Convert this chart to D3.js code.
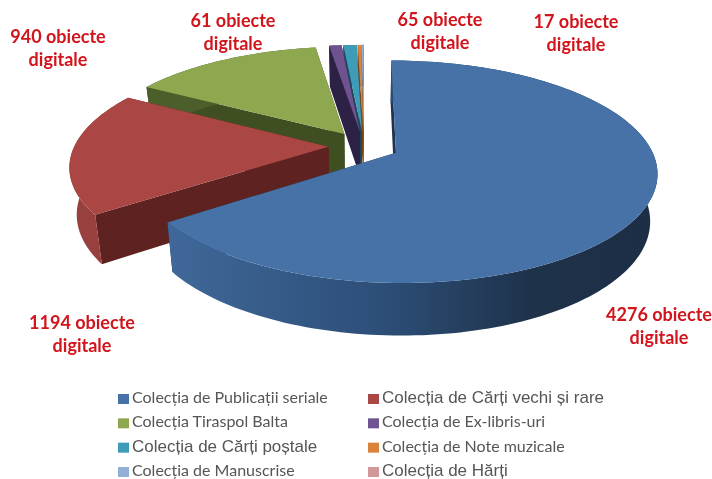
<!DOCTYPE html>
<html>
<head>
<meta charset="utf-8">
<script src="https://cdn.jsdelivr.net/npm/d3@7"></script>
<style>
html, body { margin: 0; padding: 0; background: #fff; }
svg { display: block; filter: blur(0.4px); }
</style>
</head>
<body>
<svg id="svg" width="712" height="479"></svg>
<script>
const categories = [
	'Colecția de Publicații seriale',
	'Colecția de Cărți vechi și rare',
	'Colecția Tiraspol Balta',
	'Colecția de Ex-libris-uri',
	'Colecția de Cărți poștale',
	'Colecția de Note muzicale',
	'Colecția de Manuscrise',
	'Colecția de Hărți',
]
const values = [4276, 1194, 940, 61, 65, 17, 8, 3]
const dataLabels = ['4276', '1194', '940', '61', '65', '17']

const topColors = ['#4672a8', '#aa4643', '#8ea84f', '#6f5290', '#3e9cb8', '#d8823a', '#95aed6', '#d29796']
const sideColors = ['#1f3350', '#5e2321', '#3f4f22', '#2d2245', '#1c4a58', '#7a4518', '#4a5a75', '#6e4b4a']
const outerColors = ['url(#blueWall)', '#97403d', '#4c5f2a', '#2d2245', '#1c4a58', '#7a4518', '#4a5a75', '#6e4b4a']

// label anchors, same order as dataLabels
const labelX = [659, 82, 58, 233, 440, 576]
const labelY = [321, 329, 43, 27, 26, 28]

// legend fonts differ per entry in the original
const LATO = 'Lato, sans-serif'
const ARIAL = '"Liberation Sans", sans-serif'
const legendFonts = [LATO, ARIAL, LATO, LATO, ARIAL, LATO, LATO, ARIAL]
const legendSizes = [16, 17, 16, 16, 17, 16, 16, 17]

const $svg = d3.select('#svg')

const EXPLODE = 0.14
const PERSPECTIVE = 0.168
const DEPTH = 46

const xScale = d3.scaleLinear().domain([-1, 1]).range([364 - 254, 364 + 254])
const yScale = d3.scaleLinear().domain([-1, 1]).range([146 - 105.7, 146 + 105.7])

const project = ([u, v], z = 0) => {
	const s = 1 / (1 - PERSPECTIVE * v)
	const shrink = 1 - 0.025 * z
	const cx = xScale(0)
	const cy = yScale(0)
	return [
		cx + (xScale(u) - cx) * s * shrink,
		cy + (yScale(v) - cy) * s * shrink + DEPTH * s * z,
	]
}

const pie = d3.pie().sort(null).value(d => d)
const arcs = pie(values)

const polar = (arc, angle, r = 1) => {
	const mid = (arc.startAngle + arc.endAngle) / 2
	return [
		EXPLODE * Math.sin(mid) + r * Math.sin(angle),
		-EXPLODE * Math.cos(mid) - r * Math.cos(angle),
	]
}

const rimAngles = arc => {
	const n = Math.max(2, Math.ceil((arc.endAngle - arc.startAngle) * 40))
	return d3.range(n + 1).map(i => arc.startAngle + (arc.endAngle - arc.startAngle) * i / n)
}

const line = d3.line()
const closed = pts => line(pts) + 'Z'

const defs = $svg.append('defs')
const grad = defs.append('linearGradient').attr('id', 'blueWall')
	.attr('gradientUnits', 'userSpaceOnUse')
	.attr('x1', 170).attr('x2', 657).attr('y1', 0).attr('y2', 0)
grad.append('stop').attr('offset', 0).attr('stop-color', '#3f6899')
grad.append('stop').attr('offset', 0.45).attr('stop-color', '#2c4d76')
grad.append('stop').attr('offset', 0.75).attr('stop-color', '#1e3249')
grad.append('stop').attr('offset', 1).attr('stop-color', '#1c2e46')

// painter's order: back slivers first, blue last
const drawOrder = [7, 6, 5, 4, 3, 2, 1, 0]

drawOrder.forEach(i => {
	const arc = arcs[i]
	const g = $svg.append('g')
	const rim = rimAngles(arc).map(a => polar(arc, a))
	const apex = polar(arc, 0, 0)

	// radial side faces
	;[rim[0], rim[rim.length - 1]].forEach(p => {
		g.append('path')
			.attr('d', closed([project(apex), project(p), project(p, 1), project(apex, 1)]))
			.attr('fill', sideColors[i])
	})
	// outer wall
	g.append('path')
		.attr('d', closed([...rim.map(p => project(p)), ...rim.slice().reverse().map(p => project(p, 1))]))
		.attr('fill', outerColors[i])
	// top
	g.append('path')
		.attr('d', closed([project(apex), ...rim.map(p => project(p))]))
		.attr('fill', topColors[i])
})

// data labels
dataLabels.forEach((d, i) => {
	const t = $svg.append('text')
		.attr('text-anchor', 'middle')
		.attr('font-family', 'Lato, sans-serif')
		.attr('font-weight', 700)
		.attr('font-size', 18)
		.attr('fill', '#d2141c')
	t.append('tspan').attr('x', labelX[i]).attr('y', labelY[i]).text(`${d} obiecte`)
	t.append('tspan').attr('x', labelX[i]).attr('y', labelY[i] + 23).text('digitale')
})

// legend
const legendX = d3.scalePoint().domain([0, 1]).range([118, 368])
const legendY = d3.scalePoint().domain([0, 1, 2, 3]).range([399, 472])

categories.forEach((name, i) => {
	const col = i % 2
	const row = Math.floor(i / 2)
	$svg.append('rect')
		.attr('x', legendX(col))
		.attr('y', legendY(row) - 5)
		.attr('width', 11)
		.attr('height', 10)
		.attr('fill', topColors[i])
	$svg.append('text')
		.attr('x', legendX(col) + 14)
		.attr('y', legendY(row) + 4)
		.attr('font-family', legendFonts[i])
		.attr('font-size', legendSizes[i])
		.attr('fill', '#555')
		.text(name)
})
</script>
</body>
</html>
